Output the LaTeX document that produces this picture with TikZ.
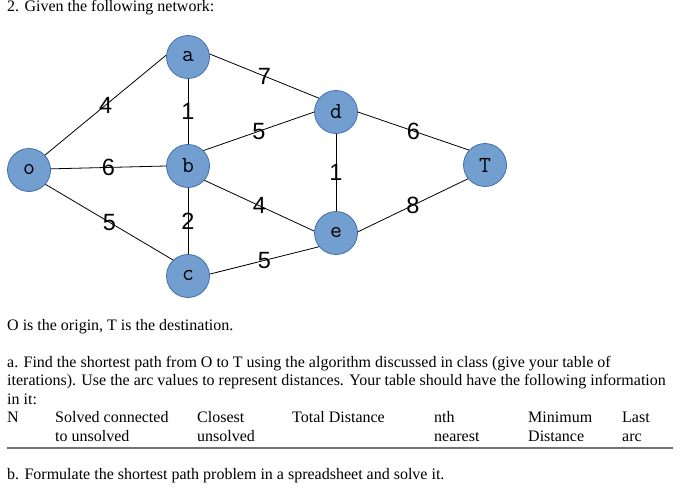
\documentclass[tikz,border=0pt]{standalone}
\usepackage{fontspec}
\setmainfont{Liberation Serif}
\newfontfamily\weightfont{Liberation Sans}
\usetikzlibrary{positioning}
\definecolor{vertexfill}{RGB}{114,159,207}
\definecolor{vertexline}{RGB}{52,101,164}

\begin{document}
\begin{tikzpicture}[
    x=1pt, y=-1pt,
    vertex/.style={circle, draw=vertexline, fill=vertexfill, line width=0.7pt, minimum size=43pt, inner sep=0pt, font=\fontsize{23}{23}\selectfont\ttfamily},
    edge/.style={line width=0.8pt},
    weight/.style={midway, inner sep=0pt, font=\fontsize{23.5}{23.5}\selectfont\weightfont},
    txt/.style={anchor=base west, inner sep=0pt, font=\fontsize{16}{18.5}\selectfont},
    rule/.style={line width=1.6pt, black!55},
  ]
  \useasboundingbox (0,0) rectangle (686,495);
  \node[txt] (title) at (7,12) {2. Given the following network:};
  % the network
  \node[vertex] (o) at (29,170) {o};
  \node[vertex] (a) at (188,57) {a};
  \node[vertex] (b) at (188,166) {b};
  \node[vertex] (c) at (188,276) {c};
  \node[vertex] (d) at (336,112) {d};
  \node[vertex] (e) at (336,233) {e};
  \node[vertex] (T) at (485,165) {T};
  \foreach \p/\q/\w in {o.43/a.175/4, o.3/b.180/6, o.-41/c.133/5, a.-90/b.90/1, a.8/d.141/7, b.45/d.180/5, b.-41/e.175/4, b.-90/c.90/2, c.5/e.-141/5, d.-90/e.90/1, d.0/T.137/6, e.3/T.-141/8}
    \draw[edge] (\p) -- node[weight] {\w} (\q);
  % the questions
  \node[txt] (origin) at (7,330) {O is the origin, T is the destination.};
  \node[txt] (qa1) at (7,367) {a. Find the shortest path from O to T using the algorithm discussed in class (give your table of};
  \node[txt] (qa2) at (7,385.5) {iterations). Use the arc values to represent distances. Your table should have the following information};
  \node[txt] (qa3) at (7,404) {in it:};
  \foreach \x/\t [count=\i] in {7/N, 55/Solved connected, 197/Closest, 292/Total Distance, 434/nth, 528/Minimum, 622/Last}
    \node[txt] (top\i) at (\x,422) {\t};
  \foreach \x/\t [count=\i] in {55/to unsolved, 197/unsolved, 434/nearest, 528/Distance, 622/arc}
    \node[txt] (sub\i) at (\x,441) {\t};
  \coordinate (ruleL) at (7,448);
  \coordinate (ruleR) at (673,448);
  \draw[rule] (ruleL) -- (ruleR);
  \node[txt] (qb) at (7,479) {b. Formulate the shortest path problem in a spreadsheet and solve it.};
\end{tikzpicture}
\end{document}
